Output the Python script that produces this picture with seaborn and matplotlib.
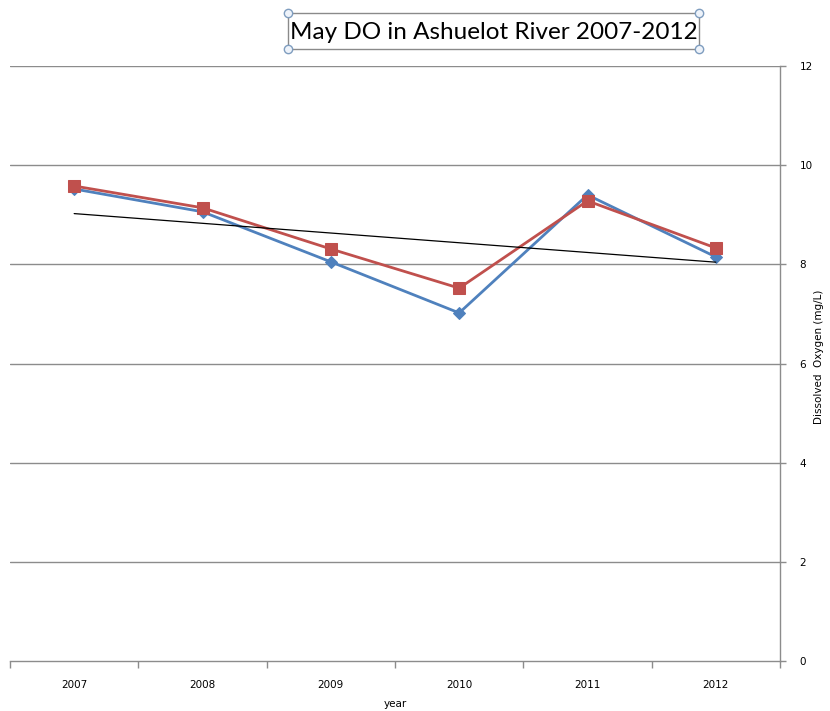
import numpy as np
import pandas as pd
import matplotlib
matplotlib.use("Agg")
import matplotlib.pyplot as plt
from matplotlib.lines import Line2D
from matplotlib.patches import Rectangle
import seaborn as sns

years = ["2007", "2008", "2009", "2010", "2011", "2012"]
do_site_a = [9.52, 9.06, 8.05, 7.02, 9.40, 8.15]
do_site_b = [9.58, 9.14, 8.31, 7.52, 9.28, 8.33]
y_ticks = [0, 2, 4, 6, 8, 10, 12]

sns.set_theme(style="white")
plt.rcParams["font.family"] = ["DejaVu Sans"]
plt.rcParams["text.color"] = "black"
plt.rcParams["axes.labelcolor"] = "black"
plt.rcParams["xtick.labelcolor"] = "black"
plt.rcParams["ytick.labelcolor"] = "black"

fig = plt.figure(figsize=(8.30, 7.11), dpi=100)
ax = fig.add_axes([10 / 830, 1 - 661 / 711, 770 / 830, 595 / 711])

df = pd.DataFrame({
    "year": years * 2,
    "do": do_site_a + do_site_b,
    "series": ["a"] * 6 + ["b"] * 6,
})

# horizontal gridlines
for v in y_ticks[1:]:
    ax.axhline(v, color="#8c8c8c", lw=1.0, zorder=0)

sns.lineplot(data=df[df.series == "a"], x="year", y="do", ax=ax,
             color="#4F81BD", lw=2.0, marker="D", markersize=6,
             markeredgecolor="#4F81BD", sort=False, zorder=3)
sns.lineplot(data=df[df.series == "b"], x="year", y="do", ax=ax,
             color="#C0504D", lw=2.0, marker="s", markersize=8,
             markeredgecolor="#C0504D", sort=False, zorder=4)

# linear trend of the first series
xi = np.arange(len(years))
slope, intercept = np.polyfit(xi, do_site_a, 1)
ax.plot(xi, slope * xi + intercept, color="black", lw=0.9, zorder=5)

ax.set_xlim(-0.5, len(years) - 0.5)
ax.set_ylim(0, 12)
ax.set_yticks(y_ticks)
ax.yaxis.tick_right()
ax.tick_params(axis="y", which="major", direction="out", length=4, width=1,
               color="#8c8c8c", labelsize=7.5, pad=10, right=True, left=False)
ax.set_xticks(xi)
ax.set_xticklabels(years)
ax.set_xticks(np.arange(-0.5, len(years)), minor=True)
ax.tick_params(axis="x", which="major", length=0, labelsize=7.5, pad=14)
ax.tick_params(axis="x", which="minor", direction="out", length=5, width=1,
               color="#8c8c8c", bottom=True)

for s in ["top", "left"]:
    ax.spines[s].set_visible(False)
for s in ["bottom", "right"]:
    ax.spines[s].set_color("#8c8c8c")
    ax.spines[s].set_linewidth(1.0)

ax.set_xlabel("year", fontsize=7.5, labelpad=6)
ax.set_ylabel("")
fig.text(819 / 830, 1 - 357 / 711, "Dissolved  Oxygen (mg/L)", rotation=90,
         ha="center", va="center", fontsize=7.5)

# title box with corner handles
bx0, by0, bx1, by1 = 288 / 830, 1 - 49 / 711, 699 / 830, 1 - 13 / 711
fig.patches.append(Rectangle((bx0, by0), bx1 - bx0, by1 - by0,
                             transform=fig.transFigure, fill=False,
                             edgecolor="#8a8a8a", lw=1.0))
fig.text((bx0 + bx1) / 2, (by0 + by1) / 2 - 0.002, "May DO in Ashuelot River 2007-2012",
         ha="center", va="center", fontsize=17.5, family=["Lato", "DejaVu Sans"])
for hx in (bx0, bx1):
    for hy in (by0, by1):
        fig.add_artist(Line2D([hx], [hy], transform=fig.transFigure, marker="o",
                              markersize=6, markerfacecolor="#eef3fa",
                              markeredgecolor="#7f9dbf", markeredgewidth=1.0))

fig.savefig("out.png", dpi=100, facecolor="white")
